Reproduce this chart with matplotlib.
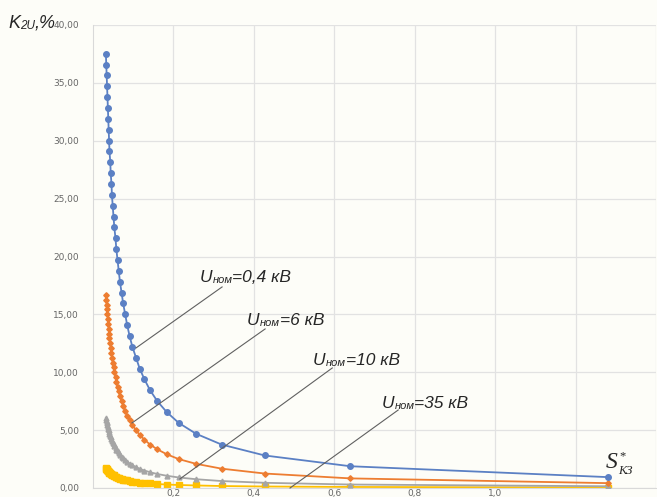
import matplotlib
matplotlib.use('Agg')
from matplotlib import pyplot as plt

# S*кз values (same for all four curves)
x_s = [1.28, 0.64, 0.427, 0.32, 0.256, 0.213, 0.183, 0.16, 0.142, 0.128,
       0.116, 0.107, 0.098, 0.091, 0.085, 0.08, 0.075, 0.071, 0.067, 0.064,
       0.061, 0.058, 0.056, 0.053, 0.051, 0.049, 0.047, 0.046, 0.044, 0.043,
       0.041, 0.04, 0.039, 0.038, 0.037, 0.036, 0.035, 0.034, 0.033, 0.032]

# K2U, % for each nominal voltage
k_04 = [0.94, 1.88, 2.81, 3.75, 4.69, 5.63, 6.57, 7.50, 8.44, 9.38,
        10.32, 11.26, 12.19, 13.13, 14.07, 15.01, 15.95, 16.88, 17.82, 18.76,
        19.70, 20.64, 21.57, 22.51, 23.45, 24.39, 25.33, 26.26, 27.20, 28.14,
        29.08, 30.02, 30.95, 31.89, 32.83, 33.77, 34.71, 35.64, 36.58, 37.52]
k_6 = [0.42, 0.83, 1.25, 1.67, 2.09, 2.50, 2.92, 3.34, 3.75, 4.17,
       4.59, 5.00, 5.42, 5.84, 6.26, 6.67, 7.09, 7.51, 7.92, 8.34,
       8.76, 9.17, 9.59, 10.01, 10.43, 10.84, 11.26, 11.68, 12.09, 12.51,
       12.93, 13.34, 13.76, 14.18, 14.60, 15.01, 15.43, 15.85, 16.26, 16.68]
k_10 = [0.15, 0.30, 0.45, 0.60, 0.76, 0.91, 1.06, 1.21, 1.36, 1.51,
        1.66, 1.81, 1.96, 2.11, 2.27, 2.42, 2.57, 2.72, 2.87, 3.02,
        3.17, 3.32, 3.47, 3.62, 3.78, 3.93, 4.08, 4.23, 4.38, 4.53,
        4.68, 4.83, 4.98, 5.13, 5.29, 5.44, 5.59, 5.74, 5.89, 6.04]
k_35 = [0.04, 0.09, 0.13, 0.17, 0.22, 0.26, 0.30, 0.34, 0.39, 0.43,
        0.47, 0.52, 0.56, 0.60, 0.65, 0.69, 0.73, 0.77, 0.82, 0.86,
        0.90, 0.95, 0.99, 1.03, 1.08, 1.12, 1.16, 1.20, 1.25, 1.29,
        1.33, 1.38, 1.42, 1.46, 1.51, 1.55, 1.59, 1.63, 1.68, 1.72]

x_ticks = [0.2, 0.4, 0.6, 0.8, 1.0, 1.2, 1.4]
x_tick_labels = ['0,2', '0,4', '0,6', '0,8', '1,0', '', '']
y_ticks = [0, 5, 10, 15, 20, 25, 30, 35, 40]

# label text + end points of the leader lines (data coords)
labels = ['=0,4 кВ', '=6 кВ', '=10 кВ', '=35 кВ']
lines = [((0.321, 17.37), (0.107, 12.10)),
         ((0.428, 13.74), (0.097, 5.62)),
         ((0.595, 10.37), (0.216, 0.78)),
         ((0.759, 6.74), (0.49, 0.0))]
label_pos = [(200, 215), (247, 172), (313, 132), (382, 89)]  # figure pixels

bg = '#fdfdf8'
txt_col = '#262626'
fig = plt.figure(figsize=(6.57, 4.97), dpi=100)
fig.patch.set_facecolor(bg)
ax = fig.add_axes([93 / 657, 9 / 497, 563 / 657, 463 / 497])
ax.set_facecolor(bg)

ax.plot(x_s, k_04, color='#5b80c4', lw=1.3, marker='o', ms=4.0, zorder=5)
ax.plot(x_s, k_6, color='#ed7d31', lw=1.3, marker='D', ms=2.8, zorder=4)
ax.plot(x_s, k_10, color='#a5a5a5', lw=1.3, marker='^', ms=3.5, zorder=3)
ax.plot(x_s, k_35, color='#ffc000', lw=1.3, marker='s', ms=3.8, zorder=2)

ax.set_xlim(0, 1.4)
ax.set_ylim(0, 40)
ax.set_xticks(x_ticks)
ax.set_xticklabels(x_tick_labels)
ax.set_yticks(y_ticks)
ax.set_yticklabels(['{:.2f}'.format(v).replace('.', ',') for v in y_ticks])
ax.tick_params(length=0, labelsize=6.5, labelcolor='#666666')
ax.tick_params(axis='y', pad=10)
ax.tick_params(axis='x', pad=1)
ax.grid(True, color='#e2e2e2', lw=0.9)
ax.set_axisbelow(True)
for s in ['top', 'right']:
    ax.spines[s].set_visible(False)
for s in ['left', 'bottom']:
    ax.spines[s].set_color('#d9d9d9')

for (p1, p2) in lines:
    ax.plot([p1[0], p2[0]], [p1[1], p2[1]], color='#606060', lw=0.8,
            zorder=6, clip_on=False)


def compose(x, y, parts):
    prev = None
    for s, size, fam in parts:
        if prev is None:
            prev = ax.annotate(s, xy=(x, y), xycoords='figure pixels',
                               va='baseline', ha='left', fontsize=size,
                               family=fam, style='italic', color=txt_col)
        else:
            prev = ax.annotate(s, xy=(1, 0), xycoords=prev,
                               va='bottom', ha='left', fontsize=size,
                               family=fam, style='italic', color=txt_col)
    return prev


for (px, py), txt in zip(label_pos, labels):
    compose(px, py, [('U', 12.5, 'Liberation Sans'),
                     ('ном', 8, 'Liberation Sans'),
                     (txt, 12.5, 'Liberation Sans')])

compose(8, 469, [('K', 13, 'Liberation Sans'),
                 ('2U', 8.5, 'Liberation Sans'),
                 (',%', 13, 'Liberation Sans')])

s_txt = ax.annotate('S', xy=(606, 29), xycoords='figure pixels',
                    va='baseline', ha='left', fontsize=17,
                    family='Liberation Serif', style='italic', color=txt_col)
ax.annotate('*', xy=(1, 1), xycoords=s_txt, xytext=(1, 1),
            textcoords='offset points', va='top', ha='left', fontsize=9,
            family='Liberation Serif', color=txt_col)
ax.annotate('КЗ', xy=(1, 0), xycoords=s_txt, xytext=(0, -3),
            textcoords='offset points', va='bottom', ha='left', fontsize=9,
            family='Liberation Serif', style='italic', color=txt_col)

plt.savefig('out.png', dpi=100, facecolor=bg)
